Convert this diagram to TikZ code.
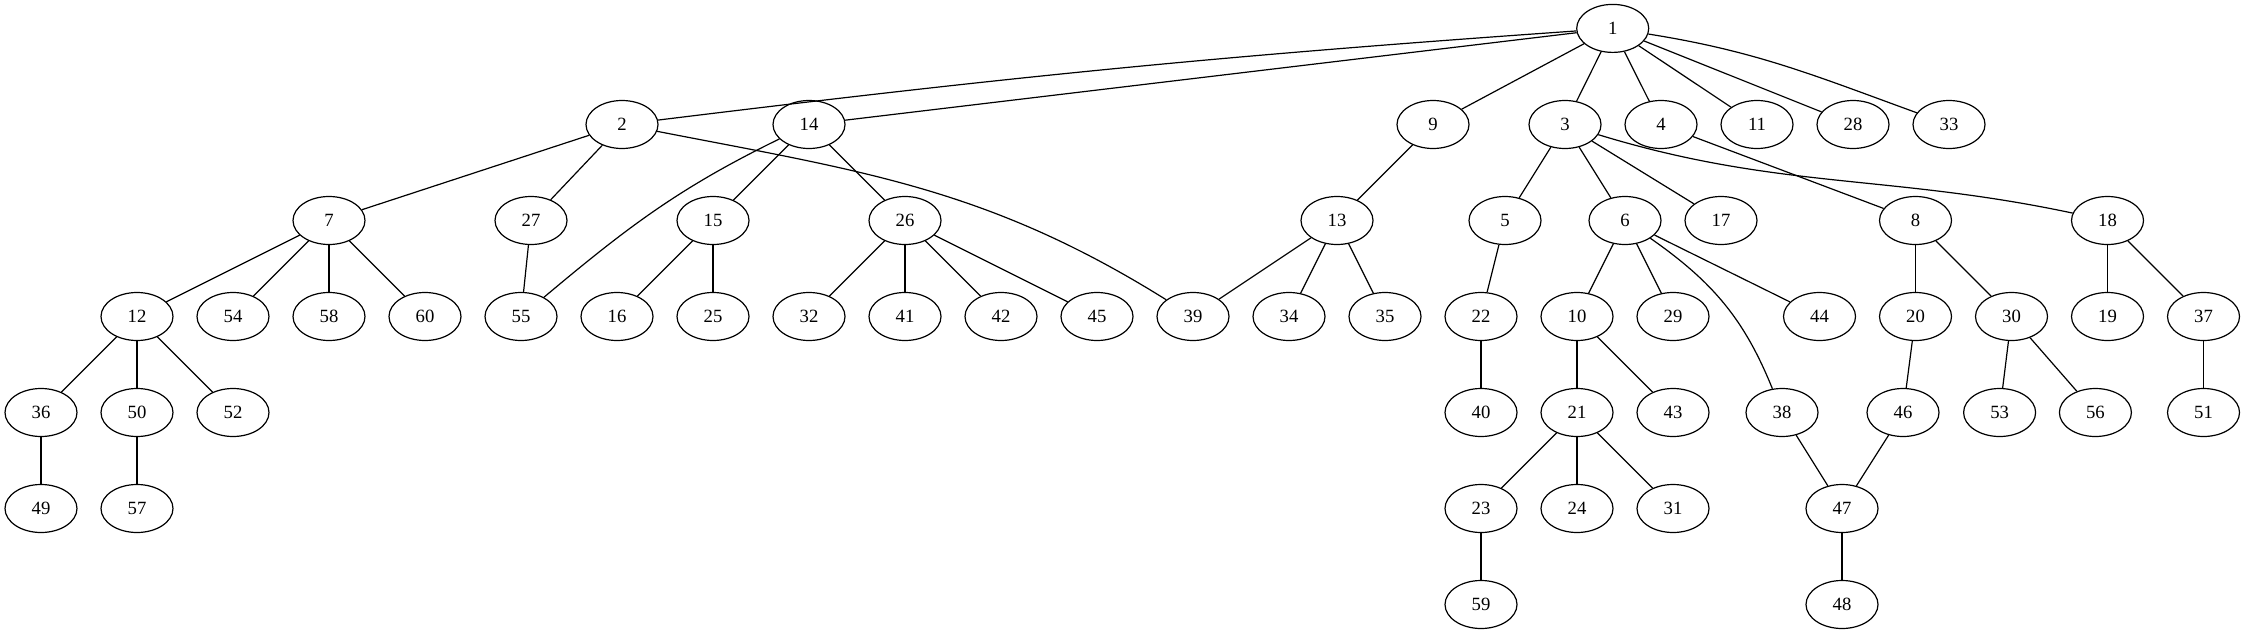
\documentclass[tikz,border=0pt]{standalone}
\usepackage{fontspec}
\setmainfont{Liberation Serif}
\usetikzlibrary{shapes.geometric}
\begin{document}
\begin{tikzpicture}[x=1pt,y=1pt,
  nd/.style={draw, ellipse, line width=1.2pt, minimum width=72pt, minimum height=48pt, inner sep=0pt, font=\fontsize{18.7}{22}\selectfont},
  ed/.style={line width=1.2pt}]
\useasboundingbox (0,0) rectangle (2245,-635);
% row 0
\node[nd] (n1) at (1612.7,-28.4) {1};
% row 1
\node[nd] (n2) at (622,-124.5) {2};
\node[nd] (n14) at (809,-124.5) {14};
\node[nd] (n9) at (1433,-124.5) {9};
\node[nd] (n3) at (1565,-124.5) {3};
\node[nd] (n4) at (1661,-124.5) {4};
\node[nd] (n11) at (1757,-124.5) {11};
\node[nd] (n28) at (1853,-124.5) {28};
\node[nd] (n33) at (1949,-124.5) {33};
% row 2
\node[nd] (n7) at (329,-220.5) {7};
\node[nd] (n27) at (531,-220.5) {27};
\node[nd] (n15) at (713,-220.5) {15};
\node[nd] (n26) at (905,-220.5) {26};
\node[nd] (n13) at (1337,-220.5) {13};
\node[nd] (n5) at (1505,-220.5) {5};
\node[nd] (n6) at (1625,-220.5) {6};
\node[nd] (n17) at (1721,-220.5) {17};
\node[nd] (n8) at (1915.5,-220.5) {8};
\node[nd] (n18) at (2107.5,-220.5) {18};
% row 3
\node[nd] (n12) at (137,-316.5) {12};
\node[nd] (n54) at (233,-316.5) {54};
\node[nd] (n58) at (329,-316.5) {58};
\node[nd] (n60) at (425,-316.5) {60};
\node[nd] (n55) at (521,-316.5) {55};
\node[nd] (n16) at (617,-316.5) {16};
\node[nd] (n25) at (713,-316.5) {25};
\node[nd] (n32) at (809,-316.5) {32};
\node[nd] (n41) at (905,-316.5) {41};
\node[nd] (n42) at (1001,-316.5) {42};
\node[nd] (n45) at (1097,-316.5) {45};
\node[nd] (n39) at (1193,-316.5) {39};
\node[nd] (n34) at (1289,-316.5) {34};
\node[nd] (n35) at (1385,-316.5) {35};
\node[nd] (n22) at (1481,-316.5) {22};
\node[nd] (n10) at (1577,-316.5) {10};
\node[nd] (n29) at (1673,-316.5) {29};
\node[nd] (n44) at (1819.5,-316.5) {44};
\node[nd] (n20) at (1915.5,-316.5) {20};
\node[nd] (n30) at (2011.5,-316.5) {30};
\node[nd] (n19) at (2107.5,-316.5) {19};
\node[nd] (n37) at (2203.5,-316.5) {37};
% row 4
\node[nd] (n36) at (41,-412.5) {36};
\node[nd] (n50) at (137,-412.5) {50};
\node[nd] (n52) at (233,-412.5) {52};
\node[nd] (n40) at (1481,-412.5) {40};
\node[nd] (n21) at (1577,-412.5) {21};
\node[nd] (n43) at (1673,-412.5) {43};
\node[nd] (n38) at (1782,-412.5) {38};
\node[nd] (n46) at (1903,-412.5) {46};
\node[nd] (n53) at (1999.6,-412.5) {53};
\node[nd] (n56) at (2095.4,-412.5) {56};
\node[nd] (n51) at (2203.5,-412.5) {51};
% row 5
\node[nd] (n49) at (41,-508.5) {49};
\node[nd] (n57) at (137,-508.5) {57};
\node[nd] (n23) at (1481,-508.5) {23};
\node[nd] (n24) at (1577,-508.5) {24};
\node[nd] (n31) at (1673,-508.5) {31};
\node[nd] (n47) at (1842,-508.5) {47};
% row 6
\node[nd] (n59) at (1481,-604.5) {59};
\node[nd] (n48) at (1842,-604.5) {48};
% edges
\draw[ed] (n1) to[out=184,in=7] (n2);
\draw[ed] (n1) -- (n14);
\draw[ed] (n1) -- (n9);
\draw[ed] (n1) -- (n3);
\draw[ed] (n1) -- (n4);
\draw[ed] (n1) -- (n11);
\draw[ed] (n1) -- (n28);
\draw[ed] (n1) to[out=-9,in=160] (n33);
\draw[ed] (n2) -- (n7);
\draw[ed] (n2) -- (n27);
\draw[ed] (n2) to[out=-11,in=148] (n39);
\draw[ed] (n14) to[out=206,in=40] (n55);
\draw[ed] (n14) -- (n15);
\draw[ed] (n14) -- (n26);
\draw[ed] (n9) -- (n13);
\draw[ed] (n3) -- (n5);
\draw[ed] (n3) -- (n6);
\draw[ed] (n3) -- (n17);
\draw[ed] (n3) to[out=-17,in=168] (n18);
\draw[ed] (n4) -- (n8);
\draw[ed] (n7) -- (n12);
\draw[ed] (n7) -- (n54);
\draw[ed] (n7) -- (n58);
\draw[ed] (n7) -- (n60);
\draw[ed] (n27) -- (n55);
\draw[ed] (n15) -- (n16);
\draw[ed] (n15) -- (n25);
\draw[ed] (n26) -- (n32);
\draw[ed] (n26) -- (n41);
\draw[ed] (n26) -- (n42);
\draw[ed] (n26) -- (n45);
\draw[ed] (n13) -- (n39);
\draw[ed] (n13) -- (n34);
\draw[ed] (n13) -- (n35);
\draw[ed] (n5) -- (n22);
\draw[ed] (n6) -- (n10);
\draw[ed] (n6) -- (n29);
\draw[ed] (n6) -- (n44);
\draw[ed] (n6) to[out=-35,in=112] (n38);
\draw[ed] (n8) -- (n20);
\draw[ed] (n8) -- (n30);
\draw[ed] (n18) -- (n19);
\draw[ed] (n18) -- (n37);
\draw[ed] (n12) -- (n36);
\draw[ed] (n12) -- (n50);
\draw[ed] (n12) -- (n52);
\draw[ed] (n22) -- (n40);
\draw[ed] (n10) -- (n21);
\draw[ed] (n10) -- (n43);
\draw[ed] (n20) -- (n46);
\draw[ed] (n30) -- (n53);
\draw[ed] (n30) -- (n56);
\draw[ed] (n37) -- (n51);
\draw[ed] (n36) -- (n49);
\draw[ed] (n50) -- (n57);
\draw[ed] (n21) -- (n23);
\draw[ed] (n21) -- (n24);
\draw[ed] (n21) -- (n31);
\draw[ed] (n38) -- (n47);
\draw[ed] (n46) -- (n47);
\draw[ed] (n23) -- (n59);
\draw[ed] (n47) -- (n48);
\end{tikzpicture}
\end{document}
